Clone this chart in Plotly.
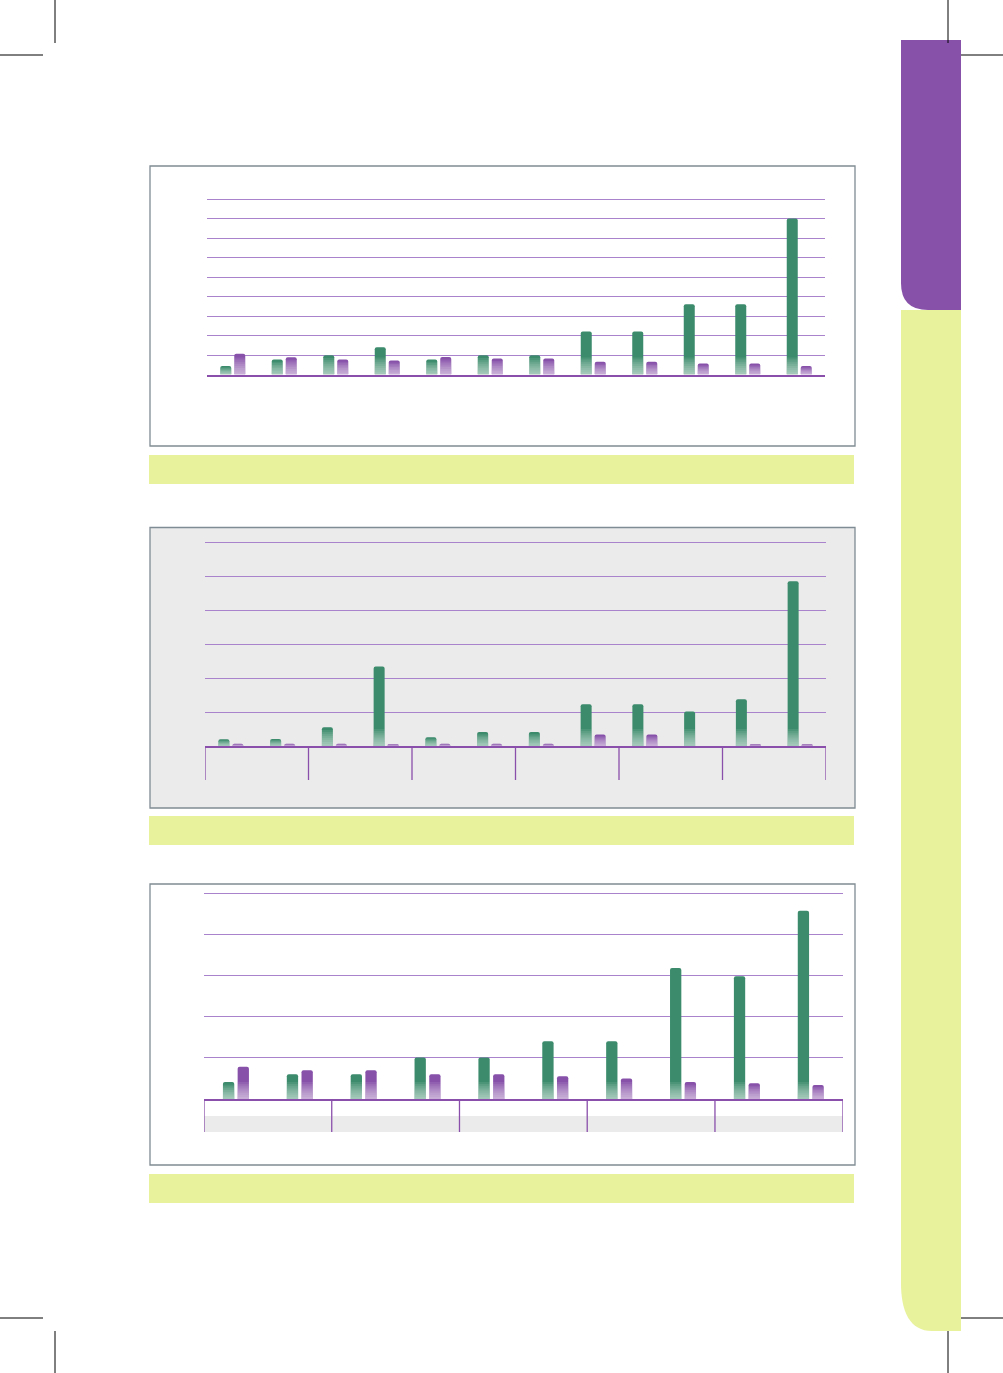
import numpy as np
import plotly.graph_objects as go

W, H = 1003, 1373

# ---------------- data ----------------
# Chart 1 (12 groups, grid every 10, 0..90)
c1_green = [4.3, 7.7, 9.9, 14.0, 7.7, 9.9, 9.9, 22.0, 22.0, 36.0, 36.0, 80.0]
c1_purple = [10.7, 8.9, 7.7, 7.2, 9.0, 8.2, 8.2, 6.6, 6.6, 5.6, 5.6, 4.3]
# Chart 2 (12 groups in 6 sections, grid every 10, 0..60)
c2_green = [2.0, 2.1, 5.5, 23.4, 2.6, 4.1, 4.1, 12.3, 12.3, 10.2, 13.8, 48.5]
c2_purple = [0.7, 0.7, 0.7, 0.5, 0.7, 0.7, 0.7, 3.4, 3.4, 0.0, 0.5, 0.5]
# Chart 3 (10 groups in 5 sections, grid every 10, 0..50)
c3_green = [4.1, 6.0, 6.0, 10.1, 10.1, 14.0, 14.0, 31.8, 29.8, 45.7]
c3_purple = [7.8, 7.0, 7.0, 6.0, 6.0, 5.5, 5.0, 4.1, 3.8, 3.4]

GREEN = "#3b8b6c"
PURPLE = "#8750a9"
GRID = "#a983cb"
AXIS = "#8a4fab"
YELLOW = "#e8f29c"
BORDER = "#7f8c93"


def px(x):
    return x / W


def py(y):
    return 1 - y / H


fig = go.Figure()
shapes = []

charts = [
    dict(g=c1_green, p=c1_purple, box=(150, 166, 855, 446), cap=(455, 484),
         x0=207, x1=825, yb=374.5, yt=199, ymax=90, bw=11, gap=3, fill="white",
         sec=None, band=None),
    dict(g=c2_green, p=c2_purple, box=(150, 527.5, 855, 808), cap=(816, 845),
         x0=205, x1=826, yb=746, yt=542.3, ymax=60, bw=11, gap=3, fill="#ebebeb",
         sec=2, sec_bottom=780, band=None),
    dict(g=c3_green, p=c3_purple, box=(150, 884, 855, 1165), cap=(1174, 1203),
         x0=204, x1=842.7, yb=1099, yt=893, ymax=50, bw=11.3, gap=3.4, fill="white",
         sec=2, sec_bottom=1132, band=(1116, 1132)),
]

NLAY = 8
ALPHA = 0.095
FADE_PX = 17
PAD = 1.0  # extra data units above the top gridline so it is drawn

for i, c in enumerate(charts, start=1):
    xa = "x" if i == 1 else f"x{i}"
    ya = "y" if i == 1 else f"y{i}"
    n = len(c["g"])
    xs = np.arange(n)
    slot = (c["x1"] - c["x0"]) / n
    w = c["bw"] / slot
    hg = (c["gap"] / 2) / slot
    unit_px = (c["yb"] - c["yt"]) / c["ymax"]
    fade = FADE_PX / unit_px
    ytop_px = c["yb"] - (c["ymax"] + PAD) * unit_px

    bx0, by0, bx1, by1 = c["box"]
    shapes.append(dict(type="rect", xref="paper", yref="paper", layer="below",
                       x0=px(bx0), x1=px(bx1), y0=py(by1), y1=py(by0),
                       fillcolor=c["fill"], line=dict(color=BORDER, width=1.3)))
    shapes.append(dict(type="rect", xref="paper", yref="paper", layer="below",
                       x0=px(149), x1=px(854), y0=py(c["cap"][1]), y1=py(c["cap"][0]),
                       fillcolor=YELLOW, line=dict(width=0)))
    if c["band"]:
        shapes.append(dict(type="rect", xref="paper", yref="paper", layer="below",
                           x0=px(c["x0"]), x1=px(c["x1"]), y0=py(c["band"][1]), y1=py(c["band"][0]),
                           fillcolor="#ebebeb", line=dict(width=0)))
    if c["sec"]:
        bounds = np.arange(-0.5, n, c["sec"])
        for b in bounds:
            shapes.append(dict(type="line", xref=xa, yref="paper", layer="above",
                               x0=b, x1=b, y0=py(c["sec_bottom"]), y1=py(c["yb"]),
                               line=dict(color=AXIS, width=1.3)))

    for vals, col, off in ((c["g"], GREEN, -(w + hg)), (c["p"], PURPLE, hg)):
        vals = np.array(vals, dtype=float)
        fig.add_trace(go.Bar(x=xs, y=vals, width=w, offset=off, xaxis=xa, yaxis=ya,
                             marker=dict(color=col, line=dict(width=0), cornerradius=2),
                             hoverinfo="skip", showlegend=False))
        fh = np.minimum(vals * 0.85, fade)
        for k in range(1, NLAY + 1):
            h = fh * k / NLAY
            fig.add_trace(go.Bar(x=xs, y=h, width=w, offset=off, xaxis=xa, yaxis=ya,
                                 marker=dict(color=f"rgba(255,255,255,{ALPHA})", line=dict(width=0)),
                                 hoverinfo="skip", showlegend=False))

    lay_x = "xaxis" if i == 1 else f"xaxis{i}"
    lay_y = "yaxis" if i == 1 else f"yaxis{i}"
    fig.update_layout({
        lay_x: dict(domain=[px(c["x0"]), px(c["x1"])], range=[-0.5, n - 0.5],
                    showgrid=False, zeroline=False, showticklabels=False, ticks="",
                    showline=True, linecolor=AXIS, linewidth=2.2, anchor=ya, fixedrange=True),
        lay_y: dict(domain=[py(c["yb"]), py(ytop_px)], range=[0, c["ymax"] + PAD],
                    tick0=0, dtick=10, showgrid=True, gridcolor=GRID, gridwidth=1,
                    zeroline=False, showticklabels=False, ticks="", showline=False,
                    anchor=xa, fixedrange=True),
    })

# side tab
purple_tab = (f"M {px(901)},{py(40)} L {px(961)},{py(40)} L {px(961)},{py(310)} "
              f"L {px(928)},{py(310)} Q {px(901)},{py(310)} {px(901)},{py(283)} Z")
shapes.append(dict(type="path", xref="paper", yref="paper", layer="below", path=purple_tab,
                   fillcolor="#8750a9", line=dict(width=0)))
yellow_tab = (f"M {px(901)},{py(310)} L {px(961)},{py(310)} L {px(961)},{py(1331)} "
              f"L {px(932)},{py(1331)} C {px(910)},{py(1331)} {px(901)},{py(1312)} {px(901)},{py(1283)} Z")
shapes.append(dict(type="path", xref="paper", yref="paper", layer="below", path=yellow_tab,
                   fillcolor=YELLOW, line=dict(width=0)))

# crop marks
marks = [
    (55, 0, 55, 43), (0, 55, 43, 55),
    (948, 0, 948, 43), (961, 55, 1003, 55),
    (0, 1318, 43, 1318), (55, 1331, 55, 1373),
    (961, 1318, 1003, 1318), (948, 1331, 948, 1373),
]
for x0, y0, x1, y1 in marks:
    shapes.append(dict(type="line", xref="paper", yref="paper", layer="above",
                       x0=px(x0), x1=px(x1), y0=py(y0), y1=py(y1),
                       line=dict(color="black", width=1)))

fig.update_layout(
    width=W, height=H, autosize=False,
    margin=dict(l=0, r=0, t=0, b=0, pad=0),
    paper_bgcolor="white", plot_bgcolor="rgba(0,0,0,0)",
    barmode="overlay", showlegend=False, shapes=shapes,
)

fig.write_html("out.html", config=dict(displayModeBar=False, staticPlot=True))
